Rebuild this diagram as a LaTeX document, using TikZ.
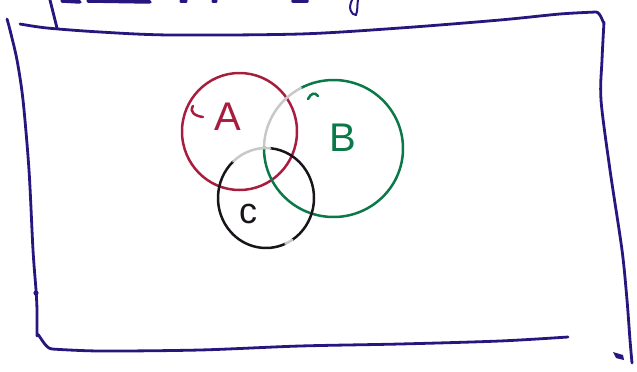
\documentclass[tikz,border=0pt]{standalone}
\usepackage{fontspec}
\setmainfont{Liberation Sans}
\definecolor{framec}{RGB}{38,22,125}
\definecolor{redc}{RGB}{168,28,62}
\definecolor{greenc}{RGB}{10,120,72}
\definecolor{blackc}{RGB}{25,20,25}
\definecolor{fadec}{RGB}{200,200,200}
\tikzset{
  framestroke/.style={draw=framec, line width=2.8pt, line cap=round, line join=round},
  vennline/.style={line width=2.5pt, line cap=round},
  lbl/.style={inner sep=0pt, font=\fontsize{40}{40}\selectfont},
}
\begin{document}
\begin{tikzpicture}[x=1pt,y=-1pt]
\useasboundingbox (0,0) rectangle (637,372);
% frame: left and bottom
\draw[framestroke] plot[smooth, tension=0.5] coordinates {(7,19) (10,30) (17,60) (23,100) (29,170) (33,250) (36,290) (37,310) (37,336)}
  to[out=90,in=180] (52,349) -- plot[smooth, tension=0.5] coordinates {(52,349) (100,351) (200,350) (300,346) (400,344) (500,341) (568,337)};
% frame: top and right
\draw[framestroke] plot[smooth, tension=0.5] coordinates {(20,24) (47,28) (100,32) (170,35) (300,34) (400,28) (500,20) (560,14) (596,12)}
  to[out=0,in=-90] (604,22) -- plot[smooth, tension=0.5] coordinates {(604,22) (602,60) (601,100) (610,170) (622,250) (627,300) (630,340) (632,363)};
% ink blobs on frame
\fill[framec] (36,293) circle[radius=2.6pt];
\fill[framec] (613,352) -- (623,355) -- (624,360) -- (616,358) -- cycle;
% fragments of cropped handwriting at the top
\draw[framestroke] (50,0) -- (54,16) -- (57,28);
\draw[framestroke, line width=3.5pt] (62,1) -- (80,2);
\draw[framestroke, line width=3.5pt] (88,1) -- (150,2);
\draw[framestroke, line width=3pt] (181,1) -- (186,1);
\draw[framestroke, line width=3pt] (213,1) -- (216,1);
\draw[framestroke, line width=3.5pt] (293,1) -- (307,1);
\draw[framestroke, line width=2pt] (352,0) .. controls (348,8) and (351,15) .. (356,15) .. controls (358,10) and (357,4) .. (358,0);
% circle A (red)
\draw[vennline, draw=redc] (239.5,131.5) ellipse [x radius=57.5pt, y radius=58.5pt];
\draw[vennline, draw=redc] (203,117) .. controls (195,116) and (189,112) .. (193,106);
% circle B (green) with faded arc
\draw[vennline, draw=greenc] ([shift={(178:69.5pt and 68.5pt)}]333.5,148.5) arc[start angle=178, end angle=478, x radius=69.5pt, y radius=68.5pt];
\draw[vennline, draw=fadec] ([shift={(118:69.5pt and 68.5pt)}]333.5,148.5) arc[start angle=118, end angle=178, x radius=69.5pt, y radius=68.5pt];
\draw[vennline, draw=greenc] (308,99) .. controls (311,93) and (315,92) .. (318,96);
% circle C (black) with faded arcs
\draw[vennline, draw=blackc] ([shift={(133:48pt and 50pt)}]266,198) arc[start angle=133, end angle=294, x radius=48pt, y radius=50pt];
\draw[vennline, draw=blackc] ([shift={(303:48pt and 50pt)}]266,198) arc[start angle=303, end angle=445, x radius=48pt, y radius=50pt];
\draw[vennline, draw=fadec] ([shift={(85:48pt and 50pt)}]266,198) arc[start angle=85, end angle=133, x radius=48pt, y radius=50pt];
\draw[vennline, draw=fadec] ([shift={(294:48pt and 50pt)}]266,198) arc[start angle=294, end angle=303, x radius=48pt, y radius=50pt];
% labels
\node[lbl, text=redc] (la) at (228,117) {A};
\node[lbl, text=greenc] (lb) at (343,138) {B};
\node[lbl, text=blackc, font=\fontsize{36}{36}\selectfont] (lc) at (248,214) {c};
\end{tikzpicture}
\end{document}
